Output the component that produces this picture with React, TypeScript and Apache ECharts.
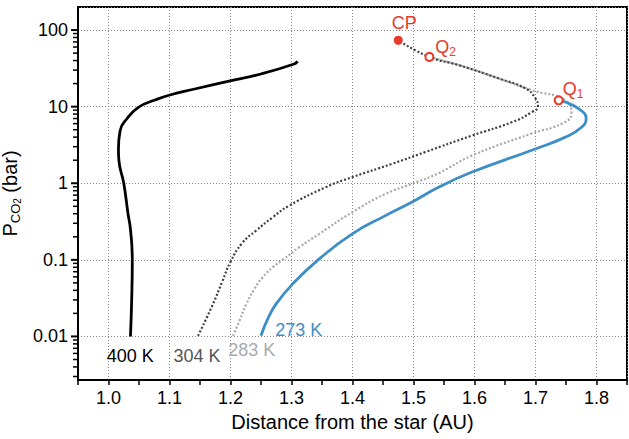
import React, { useEffect, useRef } from "react";
import * as echarts from "echarts";

// ---- data (x = distance in AU, y = P_CO2 in bar) ----
const curve400K: [number, number][] = [
  [1.036, 0.01], [1.038, 0.03], [1.039, 0.1], [1.036, 0.25], [1.032, 0.4], [1.025, 1],
  [1.017, 2], [1.0163, 2.8], [1.019, 4.86], [1.0299, 6.9], [1.0489, 9.8], [1.0761, 12.2],
  [1.1005, 14.2], [1.1413, 17], [1.1957, 21.4], [1.25, 26.7], [1.3043, 36], [1.31, 39],
];
const curve304K: [number, number][] = [
  [1.1467, 0.0102], [1.1712, 0.0264], [1.1865, 0.052], [1.2, 0.094], [1.219, 0.165],
  [1.2418, 0.24], [1.269, 0.359], [1.2962, 0.51], [1.356, 0.887], [1.3995, 1.2],
  [1.4647, 1.79], [1.519, 2.55], [1.596, 4.2], [1.662, 6.3], [1.694, 8.5], [1.704, 10.1],
  [1.7, 12.8], [1.684, 17.2], [1.64, 23.3], [1.575, 34.7], [1.526, 44.6], [1.475, 73.6],
];
const curve283K: [number, number][] = [
  [1.204, 0.0102], [1.2147, 0.016], [1.2255, 0.026], [1.2391, 0.0415], [1.2527, 0.059],
  [1.269, 0.0796], [1.287, 0.102], [1.3125, 0.1455], [1.345, 0.217], [1.3995, 0.418],
  [1.4538, 0.725], [1.497, 0.98], [1.541, 1.35], [1.596, 2.3], [1.694, 4.46], [1.743, 6.0],
  [1.759, 8.1], [1.749, 12.1], [1.694, 16.4], [1.64, 23.3], [1.575, 34.7], [1.526, 44.6],
];
const curve273K: [number, number][] = [
  [1.25, 0.0102], [1.2609, 0.0168], [1.2745, 0.0264], [1.3016, 0.0482],
  [1.345, 0.102], [1.399, 0.217], [1.454, 0.378], [1.497, 0.564], [1.541, 0.887],
  [1.596, 1.4], [1.694, 2.7], [1.749, 4.0], [1.776, 5.43], [1.783, 7.0], [1.774, 9.0],
  [1.749, 11.5], [1.738, 12.1],
];

const pointNames = ["CP", "Q2", "Q1"];
const pointX = [1.475, 1.526, 1.738];
const pointP = [73.6, 44.6, 12.1];

const curveLabels = ["400 K", "304 K", "283 K", "273 K"];
const curveLabelX = [1.0355, 1.145, 1.235, 1.312];
const curveLabelP = [0.0055, 0.0055, 0.0066, 0.012];

const yMajorTicks = [0.01, 0.1, 1, 10, 100];
const yMinorMultipliers = [2, 3, 4, 5, 6, 7, 8, 9];
const yDecades = [0.001, 0.01, 0.1, 1, 10];

const X_MIN = 0.95;
const X_MAX = 1.85;
const Y_MIN = 0.0027;
const Y_MAX = 200;

const FONT = "'Liberation Sans', Arial, Helvetica, sans-serif";
const RED = "#e8392b";
const BLUE = "#3d8ec6";
const DARK = "#404040";
const LIGHT = "#a8a8a8";
const curveLabelColors = ["#000000", "#555555", "#aaaaaa", BLUE];

export default function App() {
  const ref = useRef<HTMLDivElement>(null);
  useEffect(() => {
    if (!ref.current) return;
    const chart = echarts.init(ref.current, undefined, { renderer: "svg" });

    const yTicks: [number, number, number][] = [];
    yMajorTicks.forEach((v) => yTicks.push([X_MIN, v, 1]));
    yDecades.forEach((d) =>
      yMinorMultipliers.forEach((m) => {
        const v = d * m;
        if (v > Y_MIN && v < Y_MAX) yTicks.push([X_MIN, v, 0]);
      })
    );

    const pointData = pointNames.map((n, i) => ({
      name: n,
      value: [pointX[i], pointP[i]],
      symbol: "circle",
      symbolSize: n === "CP" ? 9 : 8,
      itemStyle:
        n === "CP"
          ? { color: RED, opacity: 1 }
          : { color: "#fff", borderColor: RED, borderWidth: 2, opacity: 1 },
      label: {
        show: true,
        formatter: n === "CP" ? "{a|CP}" : `{a|${n[0]}}{b|${n.slice(1)}}`,
        position: n === "CP" ? "top" : "right",
        distance: n === "CP" ? 2 : 2,
        offset: n === "CP" ? [6, 0] : n === "Q1" ? [-3, -11] : [-1, -10],
        rich: {
          a: { fontSize: 18, color: RED, fontFamily: FONT, lineHeight: 22 },
          b: { fontSize: 12, color: RED, fontFamily: FONT, verticalAlign: "bottom", lineHeight: 12 },
        },
      },
    }));

    const labelData = curveLabels.map((t, i) => ({
      name: t,
      value: [curveLabelX[i], curveLabelP[i]],
      label: { color: curveLabelColors[i] },
    }));

    const lineBase = { type: "line", showSymbol: false, symbol: "none", smooth: 0.5, z: 3 };

    chart.setOption({
      animation: false,
      grid: {
        left: 78, right: 2, top: 7, bottom: 59,
        outerBoundsMode: "none", containLabel: false,
        show: true, borderColor: "#000", borderWidth: 2, backgroundColor: "transparent",
      },
      xAxis: [
        {
          type: "value", min: X_MIN, max: X_MAX, interval: 0.05,
          name: "Distance from the star (AU)", nameLocation: "middle", nameGap: 27,
          nameTextStyle: { fontSize: 20, color: "#000", fontFamily: FONT },
          axisLine: { show: true, lineStyle: { color: "#000", width: 2 } },
          axisTick: { show: true, length: 5, lineStyle: { color: "#000", width: 1.5 } },
          axisLabel: {
            fontSize: 18, color: "#000", fontFamily: FONT, margin: 9,
            formatter: (v: number) => {
              const t = v * 10;
              return Math.abs(t - Math.round(t)) < 1e-6 && v > X_MIN + 1e-6 && v < X_MAX - 1e-6
                ? v.toFixed(1) : "";
            },
          },
          splitLine: { show: false },
        },
        {
          type: "value", min: X_MIN, max: X_MAX, splitNumber: 9, position: "top",
          axisLine: { show: false }, axisTick: { show: false }, axisLabel: { show: false },
          splitLine: { show: true, lineStyle: { color: "#888", width: 1, type: [1, 2] } },
        },
      ],
      yAxis: {
        type: "log", logBase: 10, min: Y_MIN, max: Y_MAX,
        name: "{a|P}{b|CO}{c|2}{a| (bar)}", nameLocation: "middle", nameGap: 47,
        nameTextStyle: {
          fontFamily: FONT, color: "#000",
          rich: {
            a: { fontSize: 20, fontFamily: FONT, color: "#000", lineHeight: 24 },
            b: { fontSize: 13, fontFamily: FONT, color: "#000", verticalAlign: "bottom", lineHeight: 15 },
            c: { fontSize: 10, fontFamily: FONT, color: "#000", verticalAlign: "bottom", lineHeight: 10 },
          },
        },
        axisLine: { show: true, lineStyle: { color: "#000", width: 2 } },
        axisTick: { show: false },
        axisLabel: {
          fontSize: 18, color: "#000", fontFamily: FONT, margin: 10,
          showMinLabel: false, showMaxLabel: false,
          formatter: (v: number) => (v >= 1 ? String(Math.round(v)) : String(+v.toPrecision(1))),
        },
        splitLine: { show: true, lineStyle: { color: "#888", width: 1, type: [1, 2] } },
      },
      series: [
        {
          type: "custom", clip: false, z: 5, silent: true,
          data: yTicks,
          renderItem: (_p: any, api: any) => {
            const v = api.value(1);
            const major = api.value(2) === 1;
            const pt = api.coord([X_MIN, v]);
            const len = major ? 6 : 4;
            return {
              type: "line",
              shape: { x1: pt[0] - 1 - len, y1: pt[1], x2: pt[0] - 1, y2: pt[1] },
              style: { stroke: "#000", lineWidth: major ? 2 : 1.5 },
            };
          },
        },
        { ...lineBase, name: "283 K", data: curve283K, lineStyle: { color: LIGHT, width: 2.2, type: [2, 2] } },
        { ...lineBase, name: "304 K", data: curve304K, lineStyle: { color: DARK, width: 2.2, type: [2, 2] } },
        { ...lineBase, name: "273 K", data: curve273K, lineStyle: { color: BLUE, width: 2.8 } },
        { ...lineBase, name: "400 K", data: curve400K, lineStyle: { color: "#000", width: 2.8 } },
        {
          type: "scatter", name: "points", z: 6, data: pointData,
          itemStyle: { opacity: 1 },
        },
        {
          type: "scatter", name: "labels", z: 6, symbolSize: 0, data: labelData,
          itemStyle: { opacity: 1 },
          label: { show: true, position: "inside", formatter: "{b}", fontSize: 18, fontFamily: FONT },
        },
      ],
    });
    return () => chart.dispose();
  }, []);
  return (
    <div
      ref={ref}
      style={{ position: "fixed", left: 0, top: 0, width: 629, height: 439, background: "#fff" }}
    />
  );
}
